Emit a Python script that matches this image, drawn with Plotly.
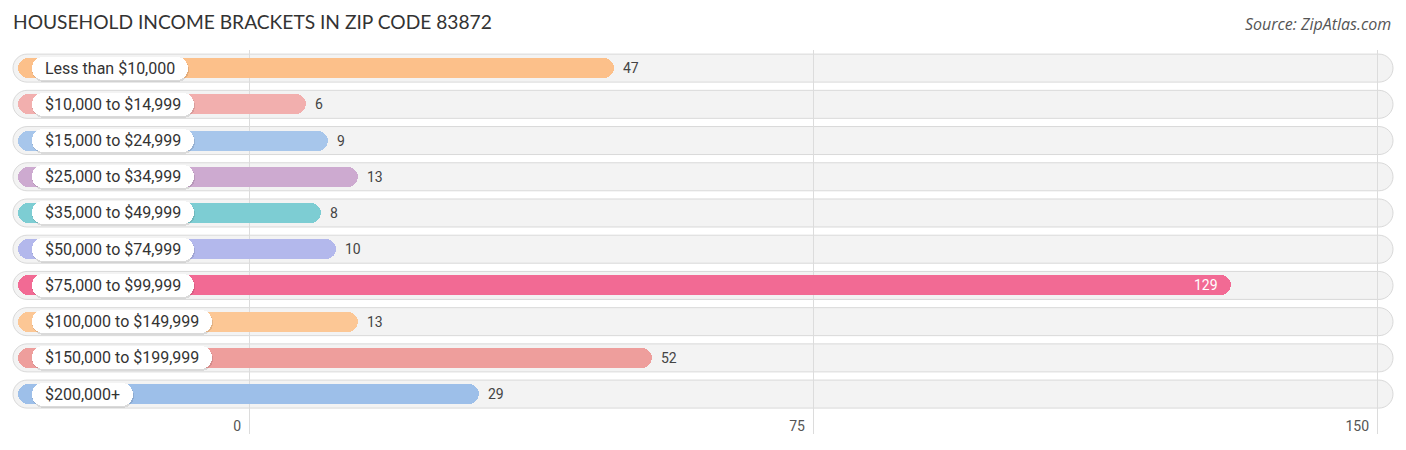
import plotly.graph_objects as go

# ---------------- data ----------------
categories = [
    "Less than $10,000", "$10,000 to $14,999", "$15,000 to $24,999",
    "$25,000 to $34,999", "$35,000 to $49,999", "$50,000 to $74,999",
    "$75,000 to $99,999", "$100,000 to $149,999", "$150,000 to $199,999",
    "$200,000+",
]
values = [47, 6, 9, 13, 8, 10, 129, 13, 52, 29]
bar_colors = [
    "#FCC08A", "#F2AFAE", "#A7C6EB", "#CDAAD0", "#7DCDD3",
    "#B3B8EC", "#F26A94", "#FCC795", "#EE9E9C", "#9DBFE9",
]
tick_vals = [0, 75, 150]
tick_text = ["0", "75", "150"]
title_text = "HOUSEHOLD INCOME BRACKETS IN ZIP CODE 83872"
source_text = "Source: ZipAtlas.com"

# ---------------- layout geometry (screen pixels) ----------------
OFF = 8                      # page body margin of the browser
W, H = 1406 - OFF, 450 - OFF
PLOT_TOP, PLOT_BOTTOM = 50, 434          # screen px
M_TOP = PLOT_TOP - OFF
M_BOT = 450 - PLOT_BOTTOM
PLOT_H = PLOT_BOTTOM - PLOT_TOP
X0_PX = 249.0          # screen pixel of value 0
PX_PER_UNIT = 7.52     # pixels per value unit
ROW_PX = 36.22         # row pitch
CAP = 1.55             # rounded cap extension of the bars (value units)
n = len(categories)
rows = list(range(n))
Y_TOP = -0.5
Y_BOT = Y_TOP + PLOT_H / ROW_PX


def xv(px):
    return (px - X0_PX) / PX_PER_UNIT


def ylen(px):
    return px / ROW_PX


CHAR_EM = {c: 0.5615 for c in "0123456789$"}
CHAR_EM.update({",": 0.196, " ": 0.2476, "t": 0.327, "o": 0.570, "L": 0.538,
                "e": 0.529, "s": 0.516, "h": 0.551, "a": 0.544, "n": 0.552,
                "+": 0.567})
LABEL_SIZE = 16


def text_px(s, size):
    return sum(CHAR_EM.get(c, 0.56) for c in s) * size


fig = go.Figure()


def add_pill(y, left_px, right_vals, thick_px, color):
    base = [xv(lp) for lp in left_px]
    fig.add_trace(go.Bar(
        orientation="h", y=y, base=base,
        x=[rv - b for rv, b in zip(right_vals, base)],
        width=ylen(thick_px),
        marker=dict(color=color, cornerradius=thick_px / 2.0, line=dict(width=0)),
        hoverinfo="skip", showlegend=False))


# colored value bars
add_pill(rows, [18.0] * n, [v + CAP for v in values], 20, bar_colors)

# label pills (shadow + white)
pill_left = 32.0
pill_pad = 13.0
pill_right_px = [pill_left + 2 * pill_pad + text_px(c, LABEL_SIZE) for c in categories]
shadow_rows = [r + ylen(1.5) for r in rows]
add_pill(shadow_rows, [pill_left - 0.5] * n, [xv(p + 0.5) for p in pill_right_px],
         24, "rgba(0,0,0,0.10)")
add_pill(rows, [pill_left] * n, [xv(p) for p in pill_right_px], 23, "#FFFFFF")

# background row tracks as shapes beneath the grid lines
K = 0.5523
bg_l, bg_r = xv(13), xv(1393)
rx = 14 / PX_PER_UNIT
hy = ylen(14)
shapes = []
for i in rows:
    yT, yB, yc = i - hy, i + hy, i
    p = (f"M {bg_l+rx},{yT} L {bg_r-rx},{yT} "
         f"C {bg_r-rx+K*rx},{yT} {bg_r},{yc-K*hy} {bg_r},{yc} "
         f"C {bg_r},{yc+K*hy} {bg_r-rx+K*rx},{yB} {bg_r-rx},{yB} "
         f"L {bg_l+rx},{yB} "
         f"C {bg_l+rx-K*rx},{yB} {bg_l},{yc+K*hy} {bg_l},{yc} "
         f"C {bg_l},{yc-K*hy} {bg_l+rx-K*rx},{yT} {bg_l+rx},{yT} Z")
    shapes.append(dict(type="path", xref="x", yref="y", path=p, layer="below",
                       fillcolor="#F3F3F3", line=dict(color="#D9D9D9", width=1)))

# annotations: category labels and values
annotations = []
for i, c in enumerate(categories):
    annotations.append(dict(
        x=xv(pill_left + pill_pad), y=i, xref="x", yref="y", text=c,
        showarrow=False, xanchor="left", yanchor="middle", xshift=-2,
        font=dict(family="Roboto", size=LABEL_SIZE, color="#333333")))
for i, v in enumerate(values):
    inside = v > 100
    annotations.append(dict(
        x=v + CAP, y=i, xref="x", yref="y", text=str(v), showarrow=False,
        xanchor="right" if inside else "left", yanchor="middle",
        xshift=-11 if inside else 7,
        font=dict(family="Roboto", size=14,
                  color="#FFFFFF" if inside else "#444444")))
annotations.append(dict(
    x=(1393 - OFF) / W, xref="paper", xanchor="right",
    y=1 + (PLOT_TOP - 24) / PLOT_H, yref="paper", yanchor="middle",
    text=f"<i>{source_text}</i>", showarrow=False,
    font=dict(family="Open Sans", size=16, color="#555555")))

fig.update_layout(
    width=W, height=H, template="none",
    margin=dict(l=0, r=0, t=M_TOP, b=M_BOT, pad=0),
    paper_bgcolor="white", plot_bgcolor="white",
    barmode="overlay", bargap=0,
    title=dict(text=title_text, x=(13 - OFF) / W, xanchor="left", xref="container",
               y=1 - (22 - OFF) / H, yanchor="middle", yref="container",
               font=dict(family="Lato", size=19.2, color="#333333")),
    xaxis=dict(range=[xv(OFF), xv(OFF + W)], tickvals=tick_vals, ticktext=tick_text,
               showgrid=True, gridcolor="#DCDCDC", gridwidth=1, zeroline=False,
               showline=False, ticks="", ticklabelposition="inside left",
               ticklabelstandoff=-6, ticklabelshift=-8,
               tickfont=dict(family="Roboto", size=14, color="#555555"),
               fixedrange=True),
    yaxis=dict(range=[Y_BOT, Y_TOP], showgrid=False, zeroline=False,
               showticklabels=False, showline=False, fixedrange=True),
    shapes=shapes, annotations=annotations, showlegend=False,
)

fig.write_html("out.html")
